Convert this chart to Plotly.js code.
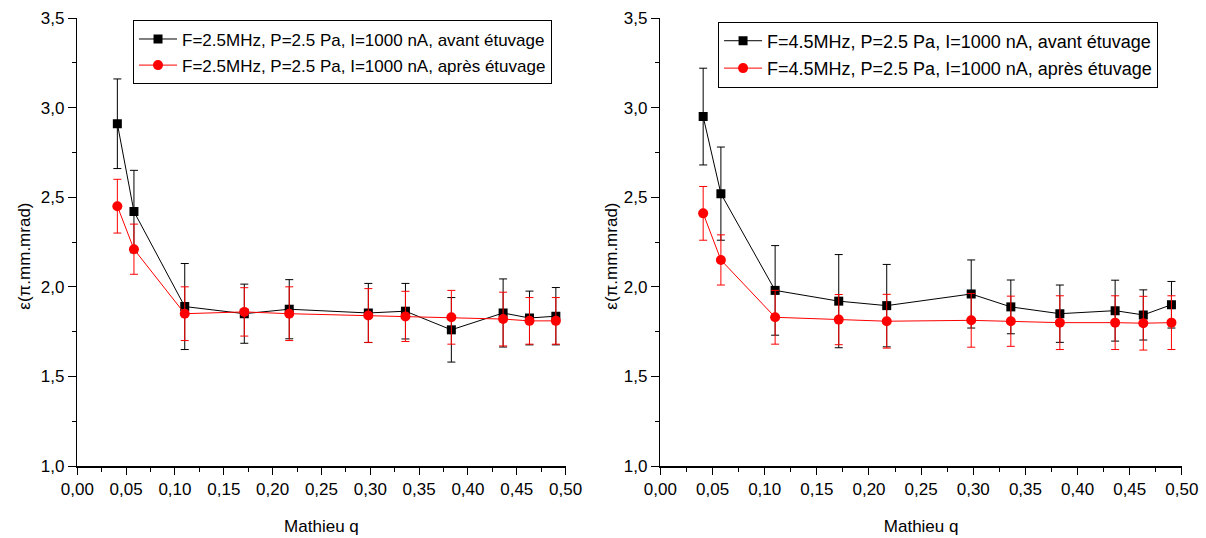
<!DOCTYPE html>
<html><head><meta charset="utf-8">
<script src="https://cdn.plot.ly/plotly-3.0.1.min.js"></script>
<style>html,body{margin:0;padding:0;background:#fff}#c{width:1206px;height:538px}</style>
</head><body><div id="c"></div>
<script>
const qValues = [0.041, 0.058, 0.110, 0.171, 0.217, 0.298, 0.336, 0.383, 0.436, 0.463, 0.490];

const leftAvant = [2.91, 2.42, 1.89, 1.85, 1.875, 1.854, 1.864, 1.76, 1.854, 1.826, 1.836];
const leftAvantErr = [0.25, 0.23, 0.24, 0.165, 0.165, 0.165, 0.155, 0.18, 0.19, 0.15, 0.16];
const leftApres = [2.45, 2.21, 1.85, 1.86, 1.85, 1.84, 1.835, 1.83, 1.82, 1.81, 1.81];
const leftApresErr = [0.15, 0.14, 0.15, 0.135, 0.15, 0.15, 0.14, 0.15, 0.15, 0.13, 0.13];

const rightAvant = [2.95, 2.52, 1.98, 1.92, 1.895, 1.96, 1.888, 1.85, 1.867, 1.843, 1.90];
const rightAvantErr = [0.27, 0.26, 0.25, 0.26, 0.23, 0.19, 0.15, 0.16, 0.17, 0.14, 0.13];
const rightApres = [2.41, 2.15, 1.83, 1.817, 1.808, 1.813, 1.808, 1.80, 1.80, 1.797, 1.80];
const rightApresErr = [0.15, 0.14, 0.15, 0.14, 0.15, 0.15, 0.14, 0.15, 0.15, 0.15, 0.15];

const leftNames = ["F=2.5MHz, P=2.5 Pa, I=1000 nA, avant étuvage", "F=2.5MHz, P=2.5 Pa, I=1000 nA, après étuvage"];
const rightNames = ["F=4.5MHz, P=2.5 Pa, I=1000 nA, avant étuvage", "F=4.5MHz, P=2.5 Pa, I=1000 nA, après étuvage"];
const xTitle = "Mathieu q";
const yTitle = "ε(π.mm.mrad)";

const FONT = "Liberation Sans, Arial, sans-serif";
const BLACK = "#000000", RED = "#ff0000";

function tr(y, err, name, color, symbol, size, xa, ya, leg, grp) {
  return {
    x: qValues, y: y, name: name, type: "scatter", mode: "lines+markers",
    xaxis: xa, yaxis: ya, legend: leg, legendgroup: grp,
    line: {color: color, width: 1},
    marker: {color: color, symbol: symbol, size: size},
    error_y: {type: "data", array: err, visible: true, color: color, thickness: 1, width: 4}
  };
}

const data = [
  tr(leftAvant, leftAvantErr, leftNames[0], BLACK, "square", 9, "x", "y", "legend", "a"),
  tr(leftApres, leftApresErr, leftNames[1], RED, "circle", 10, "x", "y", "legend", "b"),
  tr(rightAvant, rightAvantErr, rightNames[0], BLACK, "square", 9, "x2", "y2", "legend2", "c"),
  tr(rightApres, rightApresErr, rightNames[1], RED, "circle", 10, "x2", "y2", "legend2", "d")
];

const tickFont = {family: FONT, size: 17, color: "#000"};
function xax(domain, anchor) {
  return {domain: domain, anchor: anchor, range: [0, 0.5], dtick: 0.05, tick0: 0,
    tickformat: ".2f", ticks: "outside", ticklen: 7, tickwidth: 1, tickcolor: "#000",
    minor: {dtick: 0.025, ticks: "outside", ticklen: 4, tickcolor: "#000"},
    showline: true, linecolor: "#000", linewidth: 1.5, showgrid: false, zeroline: false,
    tickfont: tickFont,
    title: {text: xTitle, font: {family: FONT, size: 17, color: "#000"}, standoff: 22}};
}
function yax(domain, anchor) {
  return {domain: domain, anchor: anchor, range: [1, 3.5], dtick: 0.5, tick0: 1,
    tickformat: ".1f", ticks: "outside", ticklen: 8, tickwidth: 1, tickcolor: "#000",
    minor: {dtick: 0.25, ticks: "outside", ticklen: 4, tickcolor: "#000"},
    showline: true, linecolor: "#000", linewidth: 1.5, showgrid: false, zeroline: false,
    tickfont: tickFont};
}
function topx(over, anchor) {
  return {overlaying: over, anchor: anchor, side: "top", range: [0, 0.5], dtick: 0.05, tick0: 0,
    ticks: "inside", ticklen: 6, tickcolor: "#000", showticklabels: false,
    minor: {dtick: 0.025, ticks: "inside", ticklen: 3, tickcolor: "#000"},
    showline: true, linecolor: "#000", linewidth: 1.5, showgrid: false, zeroline: false};
}
function righty(over, anchor) {
  return {overlaying: over, anchor: anchor, side: "right", range: [1, 3.5], dtick: 0.5, tick0: 1,
    ticks: "inside", ticklen: 6, tickcolor: "#000", showticklabels: false,
    minor: {dtick: 0.25, ticks: "inside", ticklen: 3, tickcolor: "#000"},
    showline: true, linecolor: "#000", linewidth: 1.5, showgrid: false, zeroline: false};
}

const yDom = [0.1338, 0.9665];
const legendBase = {bgcolor: "#ffffff", bordercolor: "#000", borderwidth: 1,
  xanchor: "left", yanchor: "top", traceorder: "grouped", tracegroupgap: 1, itemwidth: 38};

function yTitleAnn(xPaper) {
  return {text: yTitle, xref: "paper", yref: "paper", x: xPaper, y: 0.523,
    textangle: -90, showarrow: false, xanchor: "center", yanchor: "middle",
    font: {family: FONT, size: 17, color: "#000"}};
}

const layout = {
  width: 1206, height: 538, margin: {l: 0, r: 0, t: 0, b: 0},
  paper_bgcolor: "#fff", plot_bgcolor: "#fff", separators: ",.",
  font: {family: FONT, color: "#000"},
  xaxis: xax([0.0641, 0.469], "y"),
  yaxis: yax(yDom, "x"),
  xaxis2: xax([0.5476, 0.980], "y2"),
  yaxis2: yax(yDom, "x2"),
  xaxis3: topx("x", "y"),
  yaxis3: righty("y", "x"),
  xaxis4: topx("x2", "y2"),
  yaxis4: righty("y2", "x2"),
  legend: Object.assign({}, legendBase, {x: 0.1103, y: 0.962,
    font: {family: FONT, size: 17, color: "#000"}}),
  legend2: Object.assign({}, legendBase, {x: 0.5954, y: 0.960,
    font: {family: FONT, size: 18, color: "#000"}}),
  annotations: [yTitleAnn(25 / 1206), yTitleAnn(612 / 1206)],
  showlegend: true
};

Plotly.newPlot("c", data, layout, {staticPlot: true});
</script></body></html>
